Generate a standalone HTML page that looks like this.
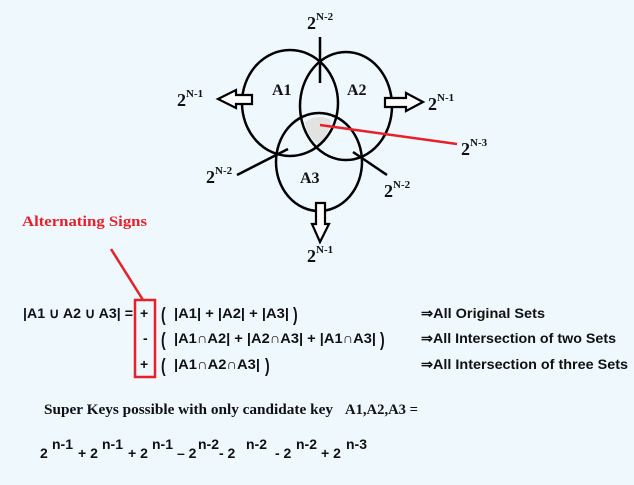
<!DOCTYPE html>
<html><head><meta charset="utf-8"><style>
html,body{margin:0;padding:0;background:#eef8fd;}
svg{display:block}
.s{font-family:"Liberation Serif",serif;font-weight:bold;fill:#111}
.t{font-family:"Liberation Sans",sans-serif;font-weight:bold;fill:#111;font-size:14px}
</style></head><body>
<svg width="634" height="485" viewBox="0 0 634 485">
<rect width="634" height="485" fill="#eef8fd"/>
<path d="M305,122 Q318,113 331,120 Q328,138 318,144 Q307,136 305,122Z" fill="#e2e2e2"/>
<g fill="none" stroke="#000" stroke-width="2.5">
<ellipse cx="290" cy="103" rx="48" ry="53"/>
<ellipse cx="346" cy="106" rx="46" ry="54"/>
<ellipse cx="319" cy="162" rx="43" ry="49"/>
<line x1="320" y1="37" x2="320" y2="83"/>
<line x1="237" y1="175" x2="288" y2="149"/>
<line x1="353" y1="152" x2="387" y2="175"/>
</g>
<line x1="320" y1="125" x2="457" y2="144" stroke="#e8202a" stroke-width="2.5"/>
<g fill="#fff" stroke="#000" stroke-width="2.2">
<path d="M218,99 L236,90 L236,95 L252,95 L252,104 L236,104 L236,108 Z"/>
<path d="M423,102 L406,93 L406,98 L385,98 L385,107 L406,107 L406,111 Z"/>
<path d="M320,242 L312,224 L316,224 L316,203 L325,203 L325,224 L329,224 Z"/>
</g>
<g class="s" font-size="18">
<text x="307" y="29">2<tspan font-size="11" dy="-9">N-2</tspan></text>
<text x="177" y="106">2<tspan font-size="11" dy="-9">N-1</tspan></text>
<text x="428" y="110">2<tspan font-size="11" dy="-9">N-1</tspan></text>
<text x="461" y="155">2<tspan font-size="11" dy="-9">N-3</tspan></text>
<text x="206" y="183">2<tspan font-size="11" dy="-9">N-2</tspan></text>
<text x="384" y="197">2<tspan font-size="11" dy="-9">N-2</tspan></text>
<text x="307" y="262">2<tspan font-size="11" dy="-9">N-1</tspan></text>
<text x="272" y="95" font-size="16">A1</text>
<text x="347" y="95" font-size="16">A2</text>
<text x="300" y="183" font-size="16">A3</text>
</g>
<text x="22" y="226" class="s" font-size="15" style="fill:#e8202a" textLength="125" lengthAdjust="spacingAndGlyphs">Alternating Signs</text>
<line x1="111" y1="249" x2="143" y2="300" stroke="#e8202a" stroke-width="2.5"/>
<rect x="135" y="300" width="20" height="77" fill="none" stroke="#e8202a" stroke-width="2.5"/>
<text x="23" y="318" class="t" font-size="15" textLength="110" lengthAdjust="spacingAndGlyphs">|A1 ∪ A2 ∪ A3| =</text>
<text x="140" y="318" class="t">+</text>
<text x="143" y="343" class="t">-</text>
<text x="140" y="369" class="t">+</text>
<g class="t" font-size="18">
<text transform="translate(161,321) scale(1,1.4)">(</text><text transform="translate(293,321) scale(1,1.4)">)</text>
<text transform="translate(161,346) scale(1,1.4)">(</text><text transform="translate(380,346) scale(1,1.4)">)</text>
<text transform="translate(161,372) scale(1,1.4)">(</text><text transform="translate(265,372) scale(1,1.4)">)</text>
</g>
<text x="174" y="318" class="t" textLength="115" lengthAdjust="spacingAndGlyphs">|A1| + |A2| + |A3|</text>
<text x="174" y="343" class="t" textLength="202" lengthAdjust="spacingAndGlyphs">|A1∩A2| + |A2∩A3| + |A1∩A3|</text>
<text x="174" y="369" class="t" textLength="86" lengthAdjust="spacingAndGlyphs">|A1∩A2∩A3|</text>
<text x="421" y="318" class="t" textLength="124" lengthAdjust="spacingAndGlyphs">⇒All Original Sets</text>
<text x="421" y="343" class="t" textLength="195" lengthAdjust="spacingAndGlyphs">⇒All Intersection of two Sets</text>
<text x="421" y="369" class="t" textLength="207" lengthAdjust="spacingAndGlyphs">⇒All Intersection of three Sets</text>
<text x="44" y="414" class="s" font-size="15" textLength="289" lengthAdjust="spacingAndGlyphs">Super Keys possible with only candidate key</text>
<text x="345" y="414" class="s" font-size="15" textLength="73" lengthAdjust="spacingAndGlyphs">A1,A2,A3 =</text>
<g class="t" font-size="15">
<text x="40" y="458">2</text><text x="52" y="449">n-1</text>
<text x="78" y="458">+ 2</text><text x="102" y="449">n-1</text>
<text x="128" y="458">+ 2</text><text x="152" y="449">n-1</text>
<text x="177" y="458">– 2</text><text x="198" y="449">n-2</text>
<text x="219" y="458">- 2</text><text x="246" y="449">n-2</text>
<text x="275" y="458">- 2</text><text x="296" y="449">n-2</text>
<text x="321" y="458">+ 2</text><text x="346" y="449">n-3</text>
</g>
</svg>
</body></html>
